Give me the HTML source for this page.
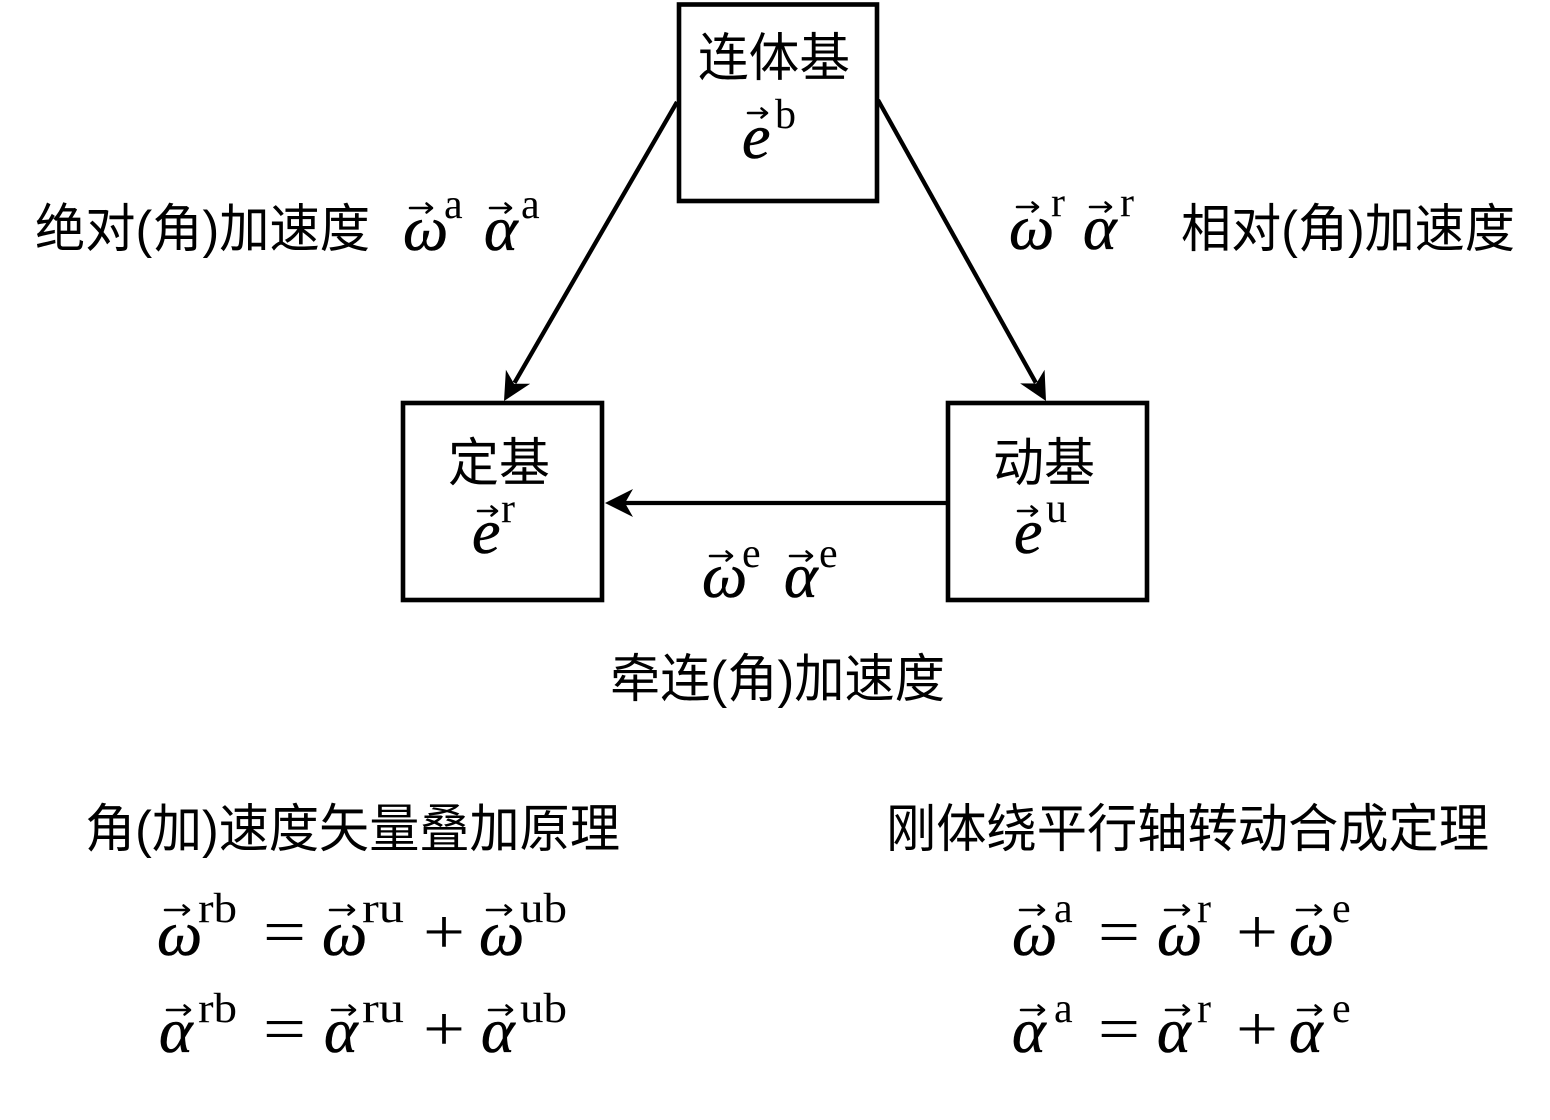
<!DOCTYPE html>
<html>
<head>
<meta charset="utf-8">
<style>
html,body{margin:0;padding:0;background:#fff;}
svg{display:block;}
.cjk{font-family:"Liberation Sans","Noto Sans CJK SC",sans-serif;font-size:52px;fill:#000;}
.mi{font-family:"Liberation Serif",serif;font-style:italic;font-size:64px;fill:#000;stroke:#000;stroke-width:0.6;}
.sup{font-family:"Liberation Serif",serif;font-size:42px;fill:#000;}
.op{font-family:"Liberation Serif",serif;font-size:64px;fill:#000;}
.va{stroke:#000;stroke-width:2.5;fill:none;stroke-linecap:round;stroke-linejoin:round;}
</style>
</head>
<body>
<svg width="1550" height="1120" viewBox="0 0 1550 1120" xmlns="http://www.w3.org/2000/svg">
<rect x="0" y="0" width="1550" height="1120" fill="#fff"/>

<!-- Boxes -->
<rect x="679" y="4.5" width="198" height="196.5" fill="#fff" stroke="#000" stroke-width="4.6"/>
<rect x="403" y="403" width="199" height="197" fill="#fff" stroke="#000" stroke-width="4.6"/>
<rect x="948" y="403" width="199" height="197" fill="#fff" stroke="#000" stroke-width="4.6"/>

<!-- Connectors -->
<line x1="677" y1="102" x2="514.5" y2="382.8" stroke="#000" stroke-width="4.3"/>
<polygon points="504,401 530.15,383.77 514.02,383.69 505.91,369.75" fill="#000"/>

<line x1="878" y1="100" x2="1035.8" y2="382.7" stroke="#000" stroke-width="4.3"/>
<polygon points="1046,401 1044.57,369.73 1036.25,383.54 1020.13,383.37" fill="#000"/>

<line x1="946" y1="503" x2="624" y2="503" stroke="#000" stroke-width="4.3"/>
<polygon points="605,503 633,489 625,503 633,517" fill="#000"/>

<!-- Box labels -->
<text class="cjk" x="698" y="76" textLength="152" lengthAdjust="spacingAndGlyphs">连体基</text>
<text class="mi" x="742" y="158">e</text>
<path class="va" d="M748 113 H767 M761.5 108.5 L767 113 L761.5 117.5"/>
<text class="sup" x="775" y="128">b</text>

<text class="cjk" x="448" y="481" textLength="102" lengthAdjust="spacingAndGlyphs">定基</text>
<text class="mi" x="472" y="553">e</text>
<path class="va" d="M478 511 H497 M491.5 506.5 L497 511 L491.5 515.5"/>
<text class="sup" x="501" y="522">r</text>

<text class="cjk" x="993" y="481" textLength="102" lengthAdjust="spacingAndGlyphs">动基</text>
<text class="mi" x="1014" y="553">e</text>
<path class="va" d="M1018 511 H1037 M1031.5 506.5 L1037 511 L1031.5 515.5"/>
<text class="sup" x="1046" y="522">u</text>

<!-- Left label -->
<text class="cjk" x="35" y="247" textLength="335" lengthAdjust="spacingAndGlyphs">绝对(角)加速度</text>
<text class="mi" x="403" y="250">ω</text>
<path class="va" d="M410 208 H432 M426.5 203.5 L432 208 L426.5 212.5"/>
<text class="sup" x="444" y="218">a</text>
<text class="mi" x="484" y="250">α</text>
<path class="va" d="M490 208 H511 M505.5 203.5 L511 208 L505.5 212.5"/>
<text class="sup" x="521" y="218">a</text>

<!-- Right label -->
<text class="mi" x="1009" y="249">ω</text>
<path class="va" d="M1017 207 H1038 M1032.5 202.5 L1038 207 L1032.5 211.5"/>
<text class="sup" x="1051" y="216">r</text>
<text class="mi" x="1083" y="249">α</text>
<path class="va" d="M1090 207 H1111 M1105.5 202.5 L1111 207 L1105.5 211.5"/>
<text class="sup" x="1120" y="216">r</text>
<text class="cjk" x="1181" y="247" textLength="334" lengthAdjust="spacingAndGlyphs">相对(角)加速度</text>

<!-- Edge label -->
<text class="mi" x="702" y="597">ω</text>
<path class="va" d="M710 556 H732 M726.5 551.5 L732 556 L726.5 560.5"/>
<text class="sup" x="742" y="567">e</text>
<text class="mi" x="784" y="597">α</text>
<path class="va" d="M790 556 H812 M806.5 551.5 L812 556 L806.5 560.5"/>
<text class="sup" x="819" y="567">e</text>
<text class="cjk" x="610" y="697" textLength="335" lengthAdjust="spacingAndGlyphs">牵连(角)加速度</text>

<!-- Bottom titles -->
<text class="cjk" x="85" y="847" textLength="535" lengthAdjust="spacingAndGlyphs">角(加)速度矢量叠加原理</text>
<text class="cjk" x="886" y="847" textLength="603" lengthAdjust="spacingAndGlyphs">刚体绕平行轴转动合成定理</text>

<!-- Left formulas row 1 -->
<text class="mi" x="157" y="955">ω</text>
<path class="va" d="M165 910 H189 M183.5 905.5 L189 910 L183.5 914.5"/>
<text class="sup" x="198" y="922" textLength="39" lengthAdjust="spacingAndGlyphs">rb</text>
<text class="op" x="263" y="953" textLength="43" lengthAdjust="spacingAndGlyphs">=</text>
<text class="mi" x="322" y="955">ω</text>
<path class="va" d="M330 910 H354 M348.5 905.5 L354 910 L348.5 914.5"/>
<text class="sup" x="362" y="922" textLength="42" lengthAdjust="spacingAndGlyphs">ru</text>
<text class="op" x="423" y="953" textLength="42" lengthAdjust="spacingAndGlyphs">+</text>
<text class="mi" x="479" y="955">ω</text>
<path class="va" d="M487 910 H511 M505.5 905.5 L511 910 L505.5 914.5"/>
<text class="sup" x="520" y="922" textLength="47" lengthAdjust="spacingAndGlyphs">ub</text>

<!-- Left formulas row 2 -->
<text class="mi" x="159" y="1052">α</text>
<path class="va" d="M167 1010 H190 M184.5 1005.5 L190 1010 L184.5 1014.5"/>
<text class="sup" x="198" y="1022" textLength="39" lengthAdjust="spacingAndGlyphs">rb</text>
<text class="op" x="263" y="1050" textLength="43" lengthAdjust="spacingAndGlyphs">=</text>
<text class="mi" x="324" y="1052">α</text>
<path class="va" d="M332 1010 H355 M349.5 1005.5 L355 1010 L349.5 1014.5"/>
<text class="sup" x="362" y="1022" textLength="42" lengthAdjust="spacingAndGlyphs">ru</text>
<text class="op" x="423" y="1050" textLength="42" lengthAdjust="spacingAndGlyphs">+</text>
<text class="mi" x="481" y="1052">α</text>
<path class="va" d="M489 1010 H512 M506.5 1005.5 L512 1010 L506.5 1014.5"/>
<text class="sup" x="520" y="1022" textLength="47" lengthAdjust="spacingAndGlyphs">ub</text>

<!-- Right formulas row 1 -->
<text class="mi" x="1012" y="955">ω</text>
<path class="va" d="M1020 910 H1044 M1038.5 905.5 L1044 910 L1038.5 914.5"/>
<text class="sup" x="1054" y="922">a</text>
<text class="op" x="1098" y="953" textLength="42" lengthAdjust="spacingAndGlyphs">=</text>
<text class="mi" x="1157" y="955">ω</text>
<path class="va" d="M1165 910 H1189 M1183.5 905.5 L1189 910 L1183.5 914.5"/>
<text class="sup" x="1197" y="922">r</text>
<text class="op" x="1236" y="953" textLength="42" lengthAdjust="spacingAndGlyphs">+</text>
<text class="mi" x="1289" y="955">ω</text>
<path class="va" d="M1297 910 H1321 M1315.5 905.5 L1321 910 L1315.5 914.5"/>
<text class="sup" x="1332" y="922">e</text>

<!-- Right formulas row 2 -->
<text class="mi" x="1012" y="1052">α</text>
<path class="va" d="M1021 1010 H1044 M1038.5 1005.5 L1044 1010 L1038.5 1014.5"/>
<text class="sup" x="1054" y="1022">a</text>
<text class="op" x="1098" y="1050" textLength="42" lengthAdjust="spacingAndGlyphs">=</text>
<text class="mi" x="1157" y="1052">α</text>
<path class="va" d="M1166 1010 H1189 M1183.5 1005.5 L1189 1010 L1183.5 1014.5"/>
<text class="sup" x="1197" y="1022">r</text>
<text class="op" x="1236" y="1050" textLength="42" lengthAdjust="spacingAndGlyphs">+</text>
<text class="mi" x="1289" y="1052">α</text>
<path class="va" d="M1298 1010 H1321 M1315.5 1005.5 L1321 1010 L1315.5 1014.5"/>
<text class="sup" x="1332" y="1022">e</text>
</svg>
</body>
</html>
